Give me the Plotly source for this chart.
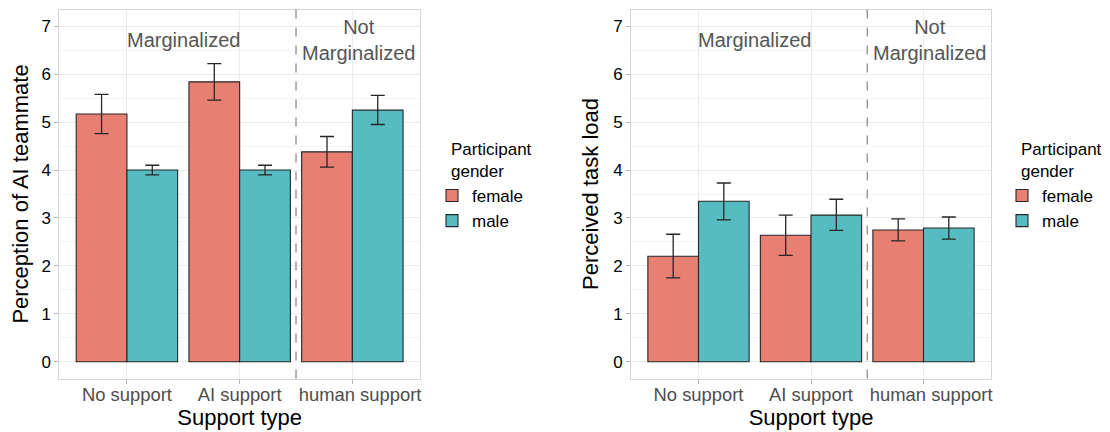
import plotly.graph_objects as go

# ---------------- data ----------------
support_types = ["No support", "AI support", "\u00a0\u00a0\u00a0human support"]
genders = ["female", "male"]

perc_female = [5.17, 5.84, 4.38]
perc_female_hi = [5.58, 6.22, 4.70]
perc_female_lo = [4.76, 5.46, 4.06]
perc_male = [4.00, 4.00, 5.25]
perc_male_hi = [4.10, 4.10, 5.56]
perc_male_lo = [3.90, 3.90, 4.95]

load_female = [2.20, 2.64, 2.75]
load_female_hi = [2.66, 3.06, 2.98]
load_female_lo = [1.75, 2.22, 2.52]
load_male = [3.35, 3.06, 2.79]
load_male_hi = [3.73, 3.39, 3.02]
load_male_lo = [2.96, 2.74, 2.56]

y_ticks = [0, 1, 2, 3, 4, 5, 6, 7]
group_labels = ["Marginalized", "Not<br>Marginalized"]
legend_title = "Participant<br>gender"

# ---------------- style ----------------
C_F = "#E77F72"
C_M = "#56BCC2"
FONT = "Liberation Sans, Arial, sans-serif"
xpos = [1, 2, 3]

W, H = 1110, 432
OFF = 8  # page body margin


def PX(px):
    return (px - OFF) / W


def PY(py):
    return 1 - (py - OFF) / H


fig = go.Figure()


def add_bars(vals, hi, lo, color, name, xa, ya, leg):
    fig.add_trace(go.Bar(
        x=xpos, y=vals, name=name, xaxis=xa, yaxis=ya, legend=leg,
        showlegend=True, offsetgroup=name,
        marker=dict(color=color, line=dict(color="#262626", width=1.1)),
        error_y=dict(type="data", symmetric=False,
                     array=[h - v for h, v in zip(hi, vals)],
                     arrayminus=[v - l for v, l in zip(vals, lo)],
                     color="#262626", thickness=1.3, width=7),
    ))


add_bars(perc_female, perc_female_hi, perc_female_lo, C_F, genders[0], "x", "y", "legend")
add_bars(perc_male, perc_male_hi, perc_male_lo, C_M, genders[1], "x", "y", "legend")
add_bars(load_female, load_female_hi, load_female_lo, C_F, genders[0], "x2", "y2", "legend2")
add_bars(load_male, load_male_hi, load_male_lo, C_M, genders[1], "x2", "y2", "legend2")

ydom = [PY(378.5), PY(9.5)]

xaxis_common = dict(
    range=[0.4, 3.6], tickvals=xpos, ticktext=support_types, tickangle=0,
    showgrid=True, gridcolor="#EBEBEB", gridwidth=1,
    ticks="outside", ticklen=4, tickcolor="#B3B3B3",
    showline=True, mirror=True, linecolor="#D6D6D6", linewidth=1,
    zeroline=False, automargin=False, ticklabelstandoff=-5,
    tickfont=dict(family=FONT, size=18.4, color="#4D4D4D"),
    title=dict(text="Support type", font=dict(family=FONT, size=22, color="black"), standoff=6),
)
yaxis_common = dict(
    range=[-0.35, 7.35], tickvals=y_ticks,
    showgrid=True, gridcolor="#EBEBEB", gridwidth=1,
    minor=dict(dtick=0.5, showgrid=True, gridcolor="#F4F4F4", gridwidth=1),
    ticks="outside", ticklen=4, tickcolor="#B3B3B3",
    showline=True, mirror=True, linecolor="#D6D6D6", linewidth=1,
    zeroline=False, automargin=False,
    tickfont=dict(family=FONT, size=17, color="black"),
)

legend_common = dict(
    xanchor="left", yanchor="top", font=dict(family=FONT, size=17, color="black"),
    bgcolor="rgba(0,0,0,0)", tracegroupgap=0, itemwidth=30,
)

fig.update_layout(
    width=W, height=H,
    margin=dict(l=0, r=0, t=0, b=0),
    paper_bgcolor="white", plot_bgcolor="white",
    barmode="group", bargap=0.1, bargroupgap=0,
    font=dict(family=FONT, color="black"),
    xaxis=dict(domain=[PX(59.3), PX(420)], anchor="y", **xaxis_common),
    yaxis=dict(domain=ydom, anchor="x",
               title=dict(text="Perception of AI teammate",
                          font=dict(family=FONT, size=22, color="black"), standoff=8),
               **yaxis_common),
    xaxis2=dict(domain=[PX(631), PX(991)], anchor="y2", **xaxis_common),
    yaxis2=dict(domain=ydom, anchor="x2",
                title=dict(text="Perceived task load",
                           font=dict(family=FONT, size=22, color="black"), standoff=8),
                **yaxis_common),
    legend=dict(x=PX(432), y=PY(178), **legend_common),
    legend2=dict(x=PX(1002), y=PY(178), **legend_common),
    showlegend=True,
)

# legend titles
for lx in [449, 1019]:
    fig.add_annotation(xref="paper", yref="paper", x=PX(lx), y=PY(138), xanchor="left", yanchor="top",
                       align="left", text=legend_title, showarrow=False,
                       font=dict(family=FONT, size=17, color="black"))

# dashed separator + group labels on each panel
for xa, ya in [("x", "y"), ("x2", "y2")]:
    fig.add_shape(type="line", xref=xa, yref=f"{ya} domain", x0=2.5, x1=2.5, y0=0, y1=1,
                  line=dict(color="#8C8C8C", width=1.3, dash="dash"), layer="above")
    fig.add_annotation(xref=xa, yref=ya, x=1.5, y=6.72, text=group_labels[0], showarrow=False,
                       font=dict(family=FONT, size=20, color="#555555"))
    fig.add_annotation(xref=xa, yref=ya, x=3.05, y=6.72, text=group_labels[1], showarrow=False,
                       font=dict(family=FONT, size=20, color="#555555"))

fig.write_html("out.html")
